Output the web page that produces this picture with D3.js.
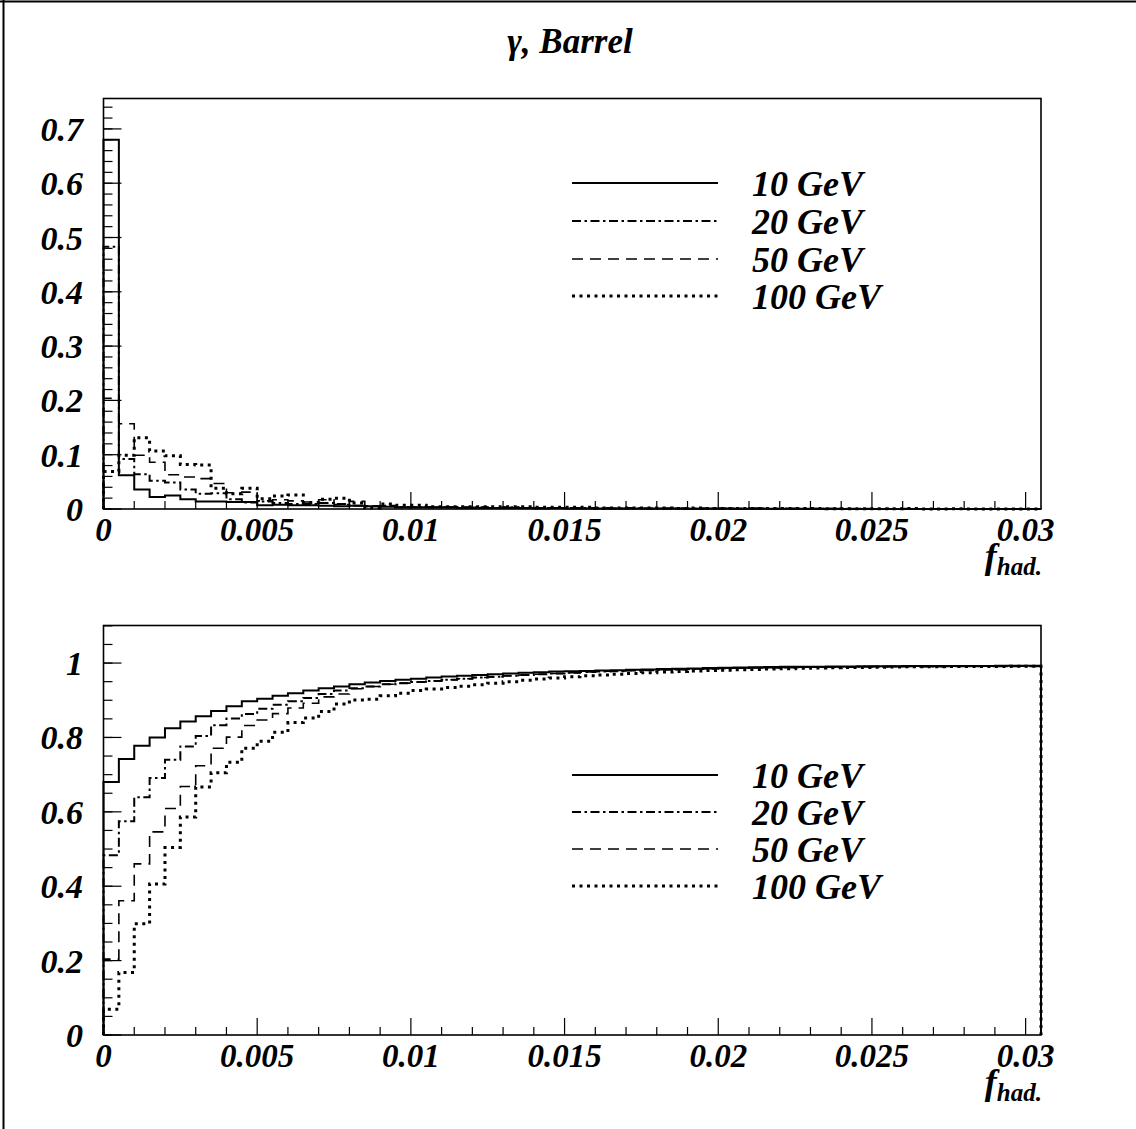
<!DOCTYPE html>
<html>
<head>
<meta charset="utf-8">
<script src="https://cdn.jsdelivr.net/npm/d3@7"></script>
<style>
  html, body { margin: 0; padding: 0; background: #fff; }
  svg { display: block; }
  text { font-family: "Liberation Serif", "Times New Roman", serif; font-weight: bold; font-style: italic; fill: #000; }
</style>
</head>
<body>
<script>
// ---------------- data ----------------
const binWidth = 0.0005;
const xMax = 0.0305;
const energies = ["10 GeV", "20 GeV", "50 GeV", "100 GeV"];

// fraction of events per f_had. bin (61 bins of 0.0005)
const frac10 = [0.680, 0.062, 0.036, 0.022, 0.025, 0.018, 0.014, 0.014, 0.013, 0.013,
  0.007, 0.008, 0.007, 0.007, 0.006, 0.005, 0.006, 0.005, 0.004, 0.003,
  0.003, 0.003, 0.003, 0.002, 0.002, 0.002, 0.002, 0.002, 0.001, 0.002,
  0.001, 0.001, 0.001, 0.001, 0.001, 0.001, 0.001, 0.001, 0.0005, 0.001,
  0.001, 0.0005, 0.0008, 0.0004, 0.0006, 0.0003, 0.0003, 0.0005, 0.0002, 0.0002,
  0.0002, 0.0002, 0.0002, 0.0001, 0.0001, 0.0001, 0.0001, 0.0001, 0.0001, 0.0001, 0.0001];
const frac20 = [0.483, 0.092, 0.064, 0.052, 0.049, 0.036, 0.028, 0.029, 0.018, 0.012,
  0.014, 0.011, 0.009, 0.009, 0.011, 0.009, 0.006, 0.005, 0.006, 0.003,
  0.003, 0.003, 0.003, 0.003, 0.003, 0.002, 0.003, 0.002, 0.002, 0.002,
  0.002, 0.002, 0.001, 0.001, 0.002, 0.001, 0.001, 0.001, 0.001, 0.001,
  0.001, 0.0005, 0.0007, 0.0004, 0.0006, 0.0004, 0.0005, 0.0003, 0.0003, 0.0004,
  0.0002, 0.0002, 0.0003, 0.0001, 0.0002, 0.0001, 0.0001, 0.0001, 0.0001, 0.0001, 0.0001];
const frac50 = [0.204, 0.157, 0.099, 0.086, 0.063, 0.059, 0.056, 0.047, 0.030, 0.031,
  0.015, 0.017, 0.015, 0.013, 0.017, 0.008, 0.014, 0.006, 0.006, 0.003,
  0.003, 0.003, 0.003, 0.003, 0.003, 0.002, 0.003, 0.002, 0.002, 0.002,
  0.002, 0.002, 0.002, 0.001, 0.001, 0.001, 0.001, 0.001, 0.001, 0.001,
  0.001, 0.0006, 0.0007, 0.0005, 0.0006, 0.0004, 0.0005, 0.0003, 0.0003, 0.0003,
  0.0002, 0.0002, 0.0003, 0.0001, 0.0002, 0.0001, 0.0001, 0.0001, 0.0001, 0.0001, 0.0001];
const frac100 = [0.069, 0.099, 0.131, 0.107, 0.098, 0.082, 0.081, 0.038, 0.028, 0.038,
  0.019, 0.024, 0.026, 0.012, 0.018, 0.020, 0.011, 0.002, 0.009, 0.007,
  0.007, 0.004, 0.004, 0.004, 0.004, 0.004, 0.004, 0.004, 0.003, 0.003,
  0.003, 0.003, 0.002, 0.002, 0.002, 0.002, 0.002, 0.001, 0.002, 0.001,
  0.001, 0.001, 0.001, 0.001, 0.001, 0.001, 0.001, 0.0004, 0.0006, 0.0004,
  0.0006, 0.0003, 0.0007, 0.0002, 0.0002, 0.0004, 0.0001, 0.0001, 0.0001, 0.0001, 0.0001];

const xTickValues = [0, 0.005, 0.01, 0.015, 0.02, 0.025, 0.03];
const xTickLabels = ["0", "0.005", "0.01", "0.015", "0.02", "0.025", "0.03"];
const yTopTickValues = [0, 0.1, 0.2, 0.3, 0.4, 0.5, 0.6, 0.7];
const yTopTickLabels = ["0", "0.1", "0.2", "0.3", "0.4", "0.5", "0.6", "0.7"];
const yBotTickValues = [0, 0.2, 0.4, 0.6, 0.8, 1];
const yBotTickLabels = ["0", "0.2", "0.4", "0.6", "0.8", "1"];
const titleText = "γ, Barrel";

// ---------------- styles ----------------
const seriesStyle = [
  { dash: null, width: 2 },
  { dash: "9,3.5,2.5,3.5", width: 2 },
  { dash: "11,7", width: 1.6 },
  { dash: "3,4.5", width: 3 }
];
const fracs = [frac10, frac20, frac50, frac100];
const cumuls = fracs.map(f => Array.from(d3.cumsum(f)));

const W = 1136, H = 1129;
const svg = d3.select("body").append("svg").attr("width", W).attr("height", H);

// outer canvas border (top & left visible)
svg.append("line").attr("x1", 0).attr("x2", W).attr("y1", 1.5).attr("y2", 1.5).attr("stroke", "#000").attr("stroke-width", 2);
svg.append("line").attr("x1", 3.5).attr("x2", 3.5).attr("y1", 0).attr("y2", H).attr("stroke", "#000").attr("stroke-width", 2);

svg.append("text").attr("x", 570).attr("y", 53).attr("text-anchor", "middle")
  .attr("font-size", 35).text(titleText);

const x = d3.scaleLinear().domain([0, xMax]).range([103.5, 1041]);

function histPath(vals, y) {
  const p = d3.path();
  p.moveTo(x(0), y(0));
  vals.forEach((v, i) => {
    p.lineTo(x(i * binWidth), y(v));
    p.lineTo(x((i + 1) * binWidth), y(v));
  });
  p.lineTo(x(vals.length * binWidth), y(0));
  return p.toString();
}

function drawPanel(cfg) {
  const { y, data, yTicks, yLabels, yMinor, legendY } = cfg;
  const g = svg.append("g");
  const [x0, x1] = x.range();
  const [yb, yt] = y.range();

  // histograms
  data.forEach((vals, k) => {
    const st = seriesStyle[k];
    g.append("path").attr("d", histPath(vals, y))
      .attr("fill", "none").attr("stroke", "#000")
      .attr("stroke-width", st.width)
      .attr("stroke-dasharray", st.dash)
      .attr("stroke-linejoin", "miter");
  });

  // frame
  g.append("rect").attr("x", x0).attr("y", yt).attr("width", x1 - x0).attr("height", yb - yt)
    .attr("fill", "none").attr("stroke", "#000").attr("stroke-width", 1.6);

  // x ticks (inside, pointing up)
  const xMinor = d3.range(0, 31).map(i => i * 0.001).filter(v => v <= xMax + 1e-9);
  xMinor.forEach(v => {
    const major = Math.abs(Math.round(v / 0.005) * 0.005 - v) < 1e-9;
    g.append("line").attr("x1", x(v)).attr("x2", x(v)).attr("y1", yb).attr("y2", yb - (major ? 17 : 8))
      .attr("stroke", "#000").attr("stroke-width", 1.2);
  });
  xTickValues.forEach((v, i) => {
    g.append("text").attr("x", x(v)).attr("y", yb + 32).attr("text-anchor", "middle")
      .attr("font-size", 33).text(xTickLabels[i]);
  });

  // y ticks (inside, pointing right)
  yMinor.forEach(v => {
    g.append("line").attr("x1", x0).attr("x2", x0 + 9).attr("y1", y(v)).attr("y2", y(v))
      .attr("stroke", "#000").attr("stroke-width", 1.2);
  });
  yTicks.forEach((v, i) => {
    g.append("line").attr("x1", x0).attr("x2", x0 + 18).attr("y1", y(v)).attr("y2", y(v))
      .attr("stroke", "#000").attr("stroke-width", 1.2);
    g.append("text").attr("x", 83).attr("y", y(v) + 12).attr("text-anchor", "end")
      .attr("font-size", 34).text(yLabels[i]);
  });

  // axis title f_had.
  const t = g.append("text").attr("x", 1042).attr("y", yb + 59).attr("text-anchor", "end");
  t.append("tspan").attr("font-size", 36).text("f");
  t.append("tspan").attr("font-size", 25).attr("dy", 7).text("had.");

  // legend
  energies.forEach((lab, k) => {
    const st = seriesStyle[k];
    const ly = legendY[k];
    g.append("line").attr("x1", 572).attr("x2", 718).attr("y1", ly).attr("y2", ly)
      .attr("stroke", "#000").attr("stroke-width", st.width).attr("stroke-dasharray", st.dash);
    g.append("text").attr("x", 752).attr("y", ly + 13).attr("font-size", 36).text(lab);
  });
}

const yTop = d3.scaleLinear().domain([0, 0.756]).range([509, 98.5]);
drawPanel({
  y: yTop, data: fracs,
  yTicks: yTopTickValues, yLabels: yTopTickLabels,
  yMinor: d3.range(0, 38).map(i => i * 0.02).filter(v => v < 0.756),
  legendY: [183, 221, 259, 296]
});

const yBot = d3.scaleLinear().domain([0, 1.101]).range([1035, 625.5]);
drawPanel({
  y: yBot, data: cumuls,
  yTicks: yBotTickValues, yLabels: yBotTickLabels,
  yMinor: d3.range(0, 23).map(i => i * 0.05).filter(v => v <= 1.1),
  legendY: [775, 812, 849, 886]
});
</script>
</body>
</html>
